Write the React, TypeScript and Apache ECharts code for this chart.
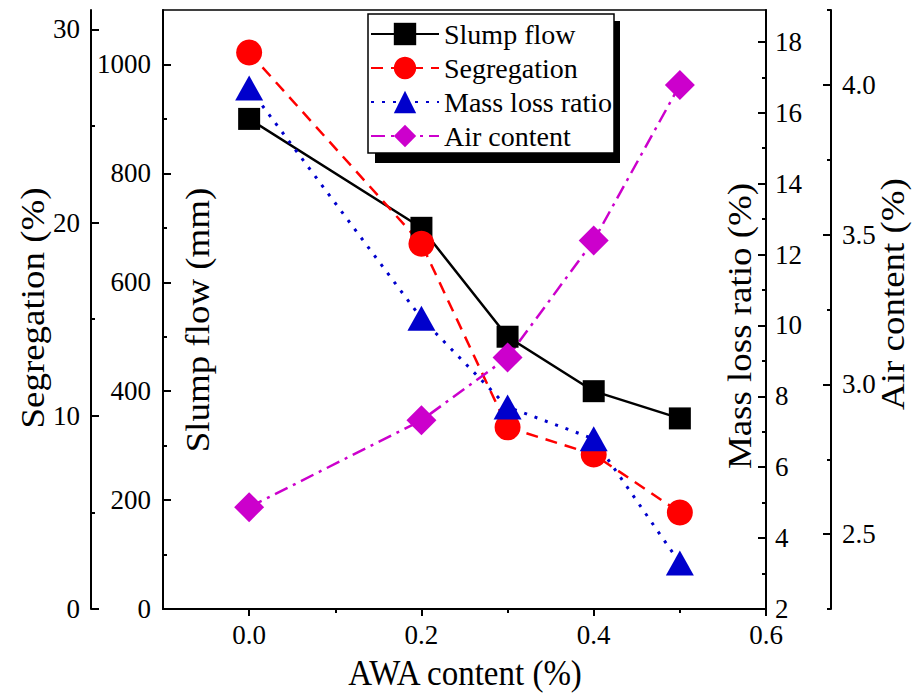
import React, { useEffect, useRef } from "react";
import * as echarts from "echarts";

const awaContent = [0, 0.2, 0.3, 0.4, 0.5];
const slumpFlow = [900, 700, 500, 400, 350];
const segregation = [28.8, 18.9, 9.4, 8.0, 5.0];
const massLossRatio = [16.7, 10.2, 7.7, 6.8, 3.3];
const airContent = [2.59, 2.88, 3.09, 3.48, 4.0];

const xMajor = [0, 0.2, 0.4, 0.6];
const xMinor = [0.1, 0.3, 0.5];
const slumpMajor = [0, 200, 400, 600, 800, 1000];
const slumpMinor = [100, 300, 500, 700, 900];
const segMajor = [0, 10, 20, 30];
const segMinor = [5, 15, 25];
const massMajor = [2, 4, 6, 8, 10, 12, 14, 16, 18];
const massMinor = [3, 5, 7, 9, 11, 13, 15, 17];
const airMajor = [2.5, 3.0, 3.5, 4.0];
const airMinor = [2.25, 2.75, 3.25, 3.75, 4.25];

const FONT = "Liberation Serif";
const TICK_FS = 27;
const TITLE_FS = 33;

function yPair(o: any) {
  const base = {
    type: "value",
    min: o.min,
    max: o.max,
    position: o.position,
    offset: o.offset,
    splitLine: { show: false },
  };
  return [
    {
      ...base,
      axisLine: { show: true, onZero: false, lineStyle: { color: "#000", width: 2 } },
      axisTick: { show: true, inside: true, length: 8, customValues: o.major, lineStyle: { color: "#000", width: 2 } },
      axisLabel: {
        show: true,
        customValues: o.major,
        margin: o.margin,
        color: "#000",
        fontSize: TICK_FS,
        fontFamily: FONT,
        formatter: o.fmt,
      },
    },
    {
      ...base,
      axisLine: { show: false, onZero: false },
      axisTick: { show: true, inside: true, length: 4, customValues: o.minor, lineStyle: { color: "#000", width: 2 } },
      axisLabel: { show: false },
    },
  ];
}

function vTitle(text: string, x: number, y: number) {
  return {
    type: "text",
    x,
    y,
    rotation: Math.PI / 2,
    scaleX: 1.12,
    scaleY: 1,
    style: { text, fontSize: TITLE_FS, fontFamily: FONT, fill: "#000", align: "center", verticalAlign: "middle" },
  };
}

export default function App() {
  const ref = useRef<HTMLDivElement>(null);
  useEffect(() => {
    if (!ref.current) return;
    const chart = echarts.init(ref.current, undefined, { renderer: "svg" });
    const yAxes = [
      ...yPair({ min: 0, max: 1100, position: "left", offset: 0, major: slumpMajor, minor: slumpMinor, margin: 12, fmt: (v: number) => String(v) }),
      ...yPair({ min: 0, max: 31, position: "left", offset: 72, major: segMajor, minor: segMinor, margin: 11, fmt: (v: number) => String(v) }),
      ...yPair({ min: 2, max: 18.9, position: "right", offset: 0, major: massMajor, minor: massMinor, margin: 9, fmt: (v: number) => String(v) }),
      ...yPair({ min: 2.25, max: 4.25, position: "right", offset: 65, major: airMajor, minor: airMinor, margin: 11, fmt: (v: number) => v.toFixed(1) }),
    ];
    const option: any = {
      animation: false,
      backgroundColor: "#fff",
      textStyle: { fontFamily: FONT },
      grid: {
        left: 163,
        right: 146,
        top: 10,
        bottom: 86,
        show: true,
        borderColor: "#000",
        borderWidth: 1.5,
        backgroundColor: "transparent",
      },
      xAxis: [
        {
          type: "value",
          min: -0.1,
          max: 0.6,
          position: "bottom",
          splitLine: { show: false },
          axisLine: { show: true, onZero: false, lineStyle: { color: "#000", width: 2 } },
          axisTick: { show: true, inside: false, length: 7, customValues: xMajor, lineStyle: { color: "#000", width: 2 } },
          axisLabel: {
            customValues: xMajor,
            margin: 12,
            color: "#000",
            fontSize: TICK_FS,
            fontFamily: FONT,
            formatter: (v: number) => v.toFixed(1),
          },
        },
        {
          type: "value",
          min: -0.1,
          max: 0.6,
          position: "bottom",
          splitLine: { show: false },
          axisLine: { show: false, onZero: false },
          axisTick: { show: true, inside: false, length: 4, customValues: xMinor, lineStyle: { color: "#000", width: 2 } },
          axisLabel: { show: false },
        },
      ],
      yAxis: yAxes,
      legend: {
        orient: "vertical",
        left: 368,
        top: 14,
        padding: [6, 2, 3, 2],
        itemWidth: 68,
        itemHeight: 28,
        itemGap: 6,
        backgroundColor: "#fff",
        borderColor: "#000",
        borderWidth: 1.5,
        z: 10,
        textStyle: { fontSize: 28, lineHeight: 28, fontFamily: FONT, color: "#000" },
        data: ["Slump flow", "Segregation", "Mass loss ratio", "Air content"],
      },
      graphic: [
        { type: "rect", z: 5, shape: { x: 375, y: 21, width: 245, height: 142 }, style: { fill: "#000" } },
        vTitle("Segregation (%)", 33, 308),
        vTitle("Slump flow (mm)", 198, 320),
        vTitle("Mass loss ratio (%)", 740, 326),
        vTitle("Air content (%)", 893, 294),
        {
          type: "text",
          x: 465,
          y: 673,
          scaleX: 1,
          scaleY: 1.08,
          style: { text: "AWA content (%)", fontSize: TITLE_FS, fontFamily: FONT, fill: "#000", align: "center", verticalAlign: "middle" },
        },
      ],
      series: [
        {
          name: "Slump flow",
          type: "line",
          xAxisIndex: 0,
          yAxisIndex: 0,
          data: awaContent.map((x, i) => [x, slumpFlow[i]]),
          symbol: "rect",
          symbolSize: 22,
          lineStyle: { color: "#000", width: 2.5, type: "solid" },
          itemStyle: { color: "#000" },
        },
        {
          name: "Segregation",
          type: "line",
          xAxisIndex: 0,
          yAxisIndex: 2,
          data: awaContent.map((x, i) => [x, segregation[i]]),
          symbol: "circle",
          symbolSize: 26,
          lineStyle: { color: "#FF0000", width: 2.5, type: [12, 8] },
          itemStyle: { color: "#FF0000" },
        },
        {
          name: "Mass loss ratio",
          type: "line",
          xAxisIndex: 0,
          yAxisIndex: 4,
          data: awaContent.map((x, i) => [x, massLossRatio[i]]),
          symbol: "triangle",
          symbolSize: [28, 25],
          lineStyle: { color: "#0000CC", width: 3, type: [3, 8] },
          itemStyle: { color: "#0000CC" },
        },
        {
          name: "Air content",
          type: "line",
          xAxisIndex: 0,
          yAxisIndex: 6,
          data: awaContent.map((x, i) => [x, airContent[i]]),
          symbol: "diamond",
          symbolSize: 30,
          lineStyle: { color: "#CC00CC", width: 2.5, type: [14, 6, 3, 6] },
          itemStyle: { color: "#CC00CC" },
        },
      ],
    };
    chart.setOption(option);
    return () => chart.dispose();
  }, []);
  return <div ref={ref} style={{ position: "absolute", left: 0, top: 0, width: 912, height: 695 }} />;
}
